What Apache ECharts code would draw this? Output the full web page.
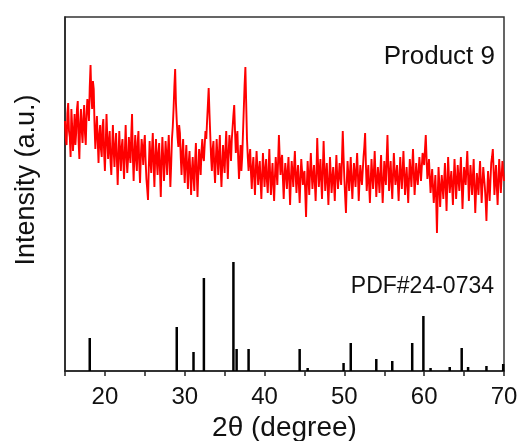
<!DOCTYPE html>
<html>
<head>
<meta charset="utf-8">
<script src="https://cdn.jsdelivr.net/npm/echarts@6/dist/echarts.min.js"></script>
<style>
html,body{margin:0;padding:0;background:#fff;}
#chart{width:520px;height:441px;}
</style>
</head>
<body>
<div id="chart"></div>
<script>
// Measured pattern (Product 9): scan from 15.0 to 70.0 deg, step 0.1 deg
var scanStart = 15.0;
var scanStep = 0.1;
var sampleIntensity = [
250,232,226,258,268,240,234,214,262,244,220,236,257,226,238,262,270,230,212,248,
262,240,228,252,266,238,226,256,272,262,250,284,306,276,262,290,282,246,222,240,
255,230,208,236,246,222,214,244,252,218,200,226,257,234,212,228,240,210,196,222,
246,220,204,226,238,212,186,214,240,218,200,224,232,210,192,220,246,216,198,212,
234,218,208,236,257,214,190,218,236,212,200,228,240,208,188,214,232,222,206,226,
236,210,192,182,171,204,230,212,198,222,238,206,184,214,232,210,196,218,228,200,
174,210,234,214,190,208,230,216,196,220,236,210,184,206,232,244,262,284,302,268,
250,234,224,246,238,214,196,218,232,206,188,210,226,202,182,208,220,198,176,200,
214,194,180,210,228,200,174,198,222,210,196,220,232,214,210,226,240,232,250,266,
283,258,236,214,200,222,230,204,188,212,232,214,196,218,236,204,184,206,226,210,
198,222,240,214,192,218,236,224,210,232,244,256,266,240,218,232,240,212,192,210,
226,200,214,238,262,286,304,268,232,214,200,214,222,198,182,204,214,194,176,200,
220,204,186,200,210,190,172,196,218,200,184,202,212,190,178,200,222,196,176,194,
208,186,170,194,214,200,186,210,236,214,196,210,216,192,172,194,208,196,182,200,
214,190,166,192,210,198,184,204,220,196,178,196,206,186,168,192,212,200,186,196,
200,178,154,186,210,194,176,200,218,198,182,196,206,188,170,196,233,208,184,198,
212,190,172,200,230,204,180,196,208,186,166,190,214,196,178,192,204,188,170,196,
216,196,182,194,208,194,186,212,240,214,192,174,158,188,210,196,180,198,214,190,
172,192,208,196,184,202,218,196,170,190,206,194,186,200,214,224,238,206,180,194,
206,186,168,190,212,196,182,200,220,196,174,190,204,192,178,198,216,190,168,188,
210,196,186,212,236,206,180,194,210,190,172,196,218,200,186,196,206,188,170,194,
214,196,182,200,220,198,176,190,204,186,168,192,212,198,184,204,222,198,176,192,
208,194,186,200,214,202,190,204,218,212,206,222,236,212,192,200,212,194,178,190,
202,184,168,182,196,172,138,176,204,186,164,182,196,184,172,190,208,184,160,188,
214,194,178,190,200,184,166,190,212,194,172,188,206,192,180,198,214,188,162,184,
204,194,186,204,220,196,170,188,206,192,176,194,212,184,158,180,198,188,176,194,
210,190,168,186,204,194,184,170,150,178,200,186,170,190,208,214,222,200,176,192,
206,184,166,190,212,196,178,194,210,200,190
];

// Reference pattern PDF#24-0734 (stick positions and relative heights)
var refTwoTheta = [18.1, 29.0, 31.1, 32.4, 36.1, 36.5, 38.0, 44.4, 45.4, 49.9, 50.8, 54.0, 56.0, 58.5, 59.9, 60.8, 63.2, 64.7, 65.5, 67.8, 69.9];
var refIntensity = [33, 44, 19, 93, 109, 22, 22, 22, 3, 8, 28, 12, 10, 28, 55, 3, 4, 23, 4, 5, 7];

var xTicks = [20, 30, 40, 50, 60, 70];
var sampleLabel = 'Product 9';
var refLabel = 'PDF#24-0734';
var xTitle = '2\u03b8 (degree)';
var yTitle = 'Intensity (a.u.)';

var traceData = sampleIntensity.map(function (v, i) {
  return [+(scanStart + i * scanStep).toFixed(2), v];
});
var stickData = refTwoTheta.map(function (x, i) { return [x, refIntensity[i]]; });

var FONT = '"Liberation Sans", Arial, sans-serif';
var chart = echarts.init(document.getElementById('chart'), null, {renderer: 'canvas'});
chart.setOption({
  animation: false,
  backgroundColor: '#fff',
  grid: {left: 65, right: 16, top: 17, height: 354, containLabel: false, outerBoundsMode: 'none',
         show: true, borderColor: '#333', borderWidth: 1.5, backgroundColor: 'transparent'},
  xAxis: {
    type: 'value', min: 15, max: 70, interval: 5,
    axisLine: {show: true, onZero: false, lineStyle: {color: '#222', width: 1.5}},
    axisTick: {show: true, inside: false, length: 5, lineStyle: {color: '#222', width: 1.5}},
    axisLabel: {
      show: true, margin: 14, color: '#111', fontFamily: FONT, fontSize: 24,
      formatter: function (v) { return xTicks.indexOf(v) >= 0 ? String(v) : ''; }
    },
    splitLine: {show: false},
    name: xTitle, nameLocation: 'middle', nameGap: 42,
    nameTextStyle: {color: '#111', fontFamily: FONT, fontSize: 28}
  },
  yAxis: {
    type: 'value', min: 0, max: 354,
    axisLine: {show: true, lineStyle: {color: '#222', width: 1.5}},
    axisTick: {show: false}, axisLabel: {show: false}, splitLine: {show: false}
  },
  graphic: [
    {type: 'text', x: 27, y: 180, rotation: Math.PI / 2,
     style: {text: yTitle, fill: '#111', font: '27px ' + FONT, textAlign: 'center', textVerticalAlign: 'middle'}},
    {type: 'text', x: 495, y: 57,
     style: {text: sampleLabel, fill: '#111', font: '26px ' + FONT, textAlign: 'right', textVerticalAlign: 'middle'}},
    {type: 'text', x: 494, y: 287,
     style: {text: refLabel, fill: '#111', font: '23px ' + FONT, textAlign: 'right', textVerticalAlign: 'middle'}}
  ],
  series: [
    {type: 'line', data: traceData, showSymbol: false, symbol: 'none',
     lineStyle: {color: '#ff0000', width: 1.9}, z: 3},
    {type: 'bar', data: stickData, barWidth: 2.5, itemStyle: {color: '#000'}, z: 2}
  ]
});
</script>
</body>
</html>
